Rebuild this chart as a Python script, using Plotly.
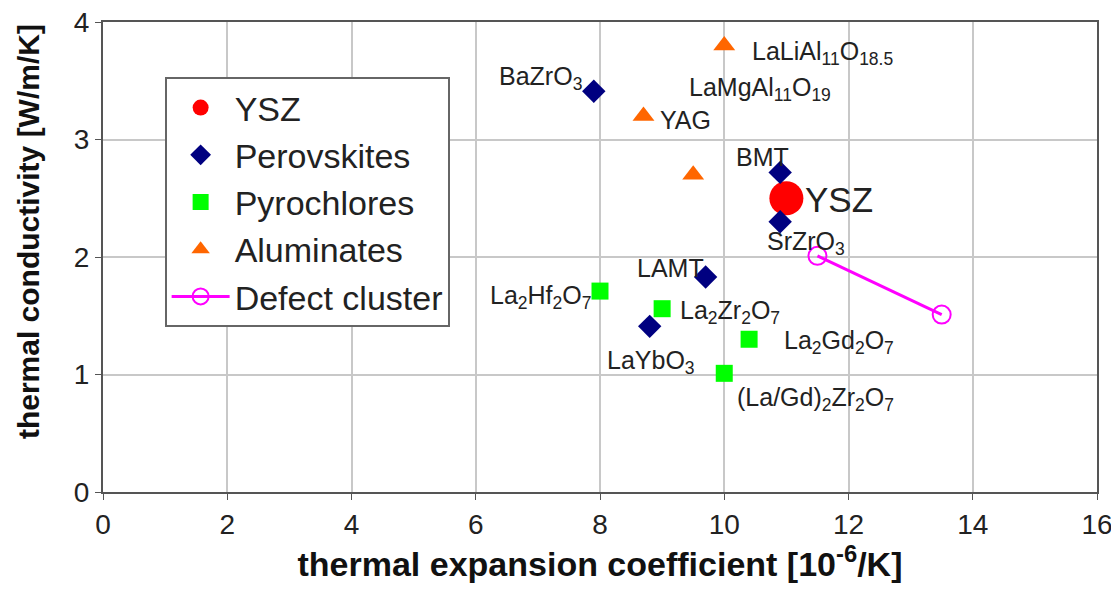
import plotly.graph_objects as go

ysz_x = [11.0]
ysz_y = [2.5]

perov_names = ["BaZrO<sub>3</sub>", "BMT", "SrZrO<sub>3</sub>", "LAMT", "LaYbO<sub>3</sub>"]
perov_x = [7.9, 10.9, 10.9, 9.7, 8.8]
perov_y = [3.41, 2.72, 2.3, 1.83, 1.41]

pyro_names = ["La<sub>2</sub>Hf<sub>2</sub>O<sub>7</sub>", "La<sub>2</sub>Zr<sub>2</sub>O<sub>7</sub>",
              "La<sub>2</sub>Gd<sub>2</sub>O<sub>7</sub>", "(La/Gd)<sub>2</sub>Zr<sub>2</sub>O<sub>7</sub>"]
pyro_x = [8.0, 9.0, 10.4, 10.0]
pyro_y = [1.71, 1.56, 1.3, 1.01]

alum_x = [10.0, 8.7, 9.5]
alum_y = [3.8, 3.2, 2.7]

defect_x = [11.5, 13.5]
defect_y = [2.01, 1.51]

# label texts and their positions (data coordinates)
label_text = ["BaZrO<sub>3</sub>", "LaLiAl<sub>11</sub>O<sub>18.5</sub>", "LaMgAl<sub>11</sub>O<sub>19</sub>",
              "YAG", "BMT", "SrZrO<sub>3</sub>", "LAMT", "La<sub>2</sub>Hf<sub>2</sub>O<sub>7</sub>",
              "La<sub>2</sub>Zr<sub>2</sub>O<sub>7</sub>", "LaYbO<sub>3</sub>", "La<sub>2</sub>Gd<sub>2</sub>O<sub>7</sub>",
              "(La/Gd)<sub>2</sub>Zr<sub>2</sub>O<sub>7</sub>"]
label_x = [7.04, 11.58, 10.58, 9.37, 10.62, 11.32, 9.14, 7.04, 10.10, 8.82, 11.84, 11.47]
label_y = [3.52, 3.74, 3.43, 3.17, 2.85, 2.12, 1.91, 1.66, 1.53, 1.11, 1.28, 0.79]

FONT = "Liberation Sans, Arial, sans-serif"

fig = go.Figure()
fig.add_trace(go.Scatter(x=ysz_x, y=ysz_y, mode="markers", name="YSZ", legendgroup="a",
                         marker=dict(symbol="circle", size=34, color="#ff0000")))
fig.add_trace(go.Scatter(x=perov_x, y=perov_y, mode="markers", name="Perovskites", legendgroup="b",
                         marker=dict(symbol="diamond", size=18, color="#000080")))
fig.add_trace(go.Scatter(x=pyro_x, y=pyro_y, mode="markers", name="Pyrochlores", legendgroup="c",
                         marker=dict(symbol="square", size=17, color="#00ff00")))
fig.add_trace(go.Scatter(x=alum_x, y=alum_y, mode="markers", name="Aluminates", legendgroup="d",
                         marker=dict(symbol="triangle-up", size=19, color="#ff6600")))
fig.add_trace(go.Scatter(x=defect_x, y=defect_y, mode="lines+markers", name="Defect cluster", legendgroup="e",
                         line=dict(color="#ff00ff", width=3),
                         marker=dict(symbol="circle-open", size=18, color="#ff00ff", line=dict(width=2))))

for t, x, y in zip(label_text, label_x, label_y):
    fig.add_annotation(x=x, y=y, text=t, showarrow=False, xanchor="center", yanchor="middle",
                       font=dict(family=FONT, size=25, color="#222222"))
fig.add_annotation(x=11.84, y=2.49, text="YSZ", showarrow=False, xanchor="center", yanchor="middle",
                   font=dict(family=FONT, size=35, color="#222222"))

# y-axis title (placed as in the reference, shifted above centre)
fig.add_annotation(xref="paper", yref="paper", x=-0.0755, y=0.555, textangle=-90,
                   text="<b>thermal conductivity [W/m/K]</b>", showarrow=False,
                   xanchor="center", yanchor="middle",
                   font=dict(family=FONT, size=30, color="#111111"))

fig.update_layout(
    width=1111, height=588,
    margin=dict(l=95, r=22, t=14, b=104, autoexpand=False),
    paper_bgcolor="white", plot_bgcolor="white",
    font=dict(family=FONT, color="#222222"),
    showlegend=True,
    legend=dict(x=0.062, y=0.883, xanchor="left", yanchor="top",
                bgcolor="white", bordercolor="#666666", borderwidth=2,
                font=dict(family=FONT, size=34, color="#222222"),
                tracegroupgap=0, itemwidth=58),
)
fig.update_xaxes(range=[0, 16], dtick=2, showgrid=True, gridcolor="#c8c8c8", gridwidth=1.5,
                 showline=True, linecolor="#555555", linewidth=2, mirror=True,
                 ticks="outside", ticklen=6, tickcolor="#555555", zeroline=False,
                 ticklabeloverflow="allow", automargin=False,
                 tickfont=dict(size=28, color="#222222"),
                 title=dict(text="<b>thermal expansion coefficient [10<sup>-6</sup>/K]</b>",
                            font=dict(size=34, color="#111111"), standoff=12))
fig.update_yaxes(range=[0, 4], dtick=1, showgrid=True, gridcolor="#c8c8c8", gridwidth=1.5,
                 showline=True, linecolor="#555555", linewidth=2, mirror=True,
                 ticks="outside", ticklen=6, tickcolor="#555555", zeroline=False,
                 ticklabeloverflow="allow", automargin=False,
                 tickfont=dict(size=28, color="#222222"))

fig.write_html("out.html")
